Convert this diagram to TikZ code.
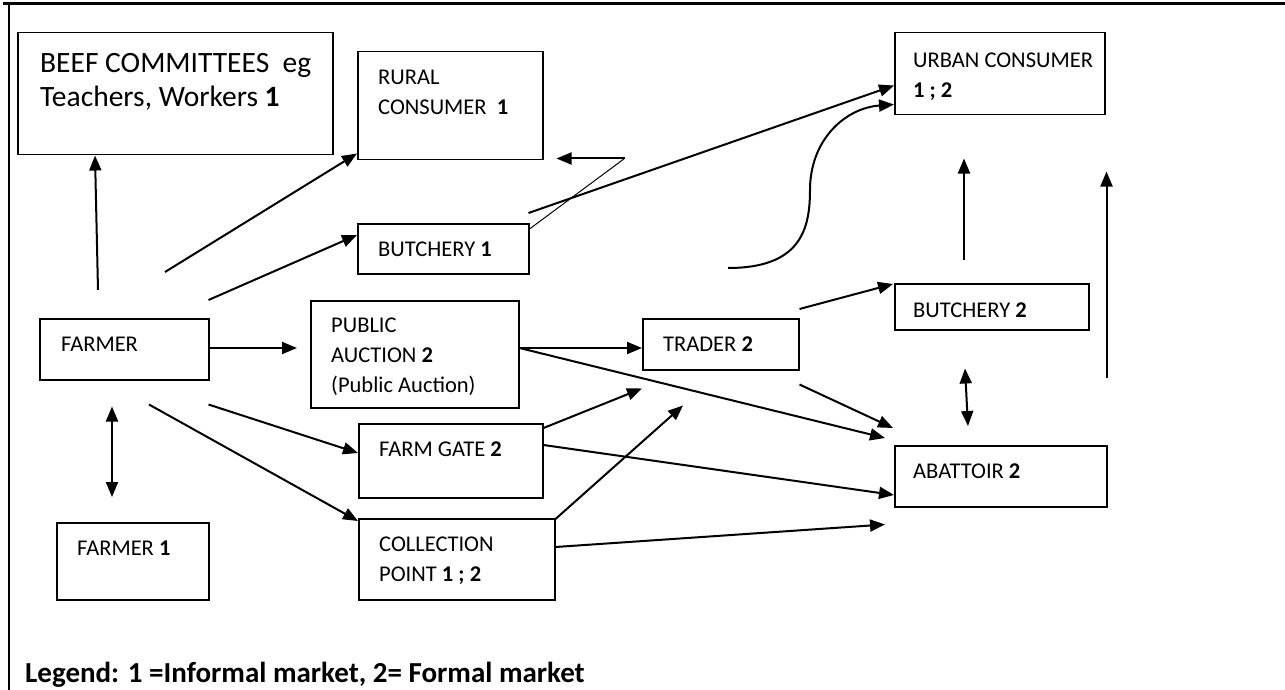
\documentclass[tikz,border=0pt]{standalone}
\usepackage{fontspec}
\setmainfont{Carlito}
\usepackage{tikz}
\usetikzlibrary{arrows.meta}
\usetikzlibrary{positioning}
\tikzset{
  box/.style={draw, line width=1.5pt, anchor=north west, inner sep=0pt},
  boxtext/.style={anchor=north west, inner sep=0pt, align=left, font=\fontsize{22.5}{30}\selectfont},
  flow/.style={->, line width=2pt},
  thinflow/.style={line width=1pt},
}

\begin{document}
\begin{tikzpicture}[x=1pt, y=-1pt, >={Triangle[length=15pt,width=12pt]}]
\useasboundingbox (0,0) rectangle (1285,690);

% Rahmen
\draw[line width=3pt] (3,4) -- (1285,4);
\draw[line width=2pt] (9,4) -- (9,690);

% Kaesten
\node[box, minimum width=315pt, minimum height=122pt] (beef) at (17,32) {};
\node[anchor=north west, inner sep=0pt, align=left, font=\fontsize{29.5}{34}\selectfont] (beef-t)
  at ([shift={(23,21)}]beef.north west) {BEEF COMMITTEES~~eg\\Teachers, Workers \textbf{1}};

\node[box, minimum width=185pt, minimum height=108pt] (rural) at (357,51) {};
\node[boxtext] (rural-t) at ([shift={(21,19)}]rural.north west) {RURAL\\CONSUMER~~\textbf{1}};

\node[box, minimum width=171pt, minimum height=50pt] (butchA) at (357,223) {};
\node[boxtext] (butchA-t) at ([shift={(21,19)}]butchA.north west) {BUTCHERY \textbf{1}};

\node[box, minimum width=210pt, minimum height=82pt] (urban) at (894,32) {};
\node[boxtext] (urban-t) at ([shift={(19,21)}]urban.north west) {URBAN CONSUMER\\\textbf{1 ; 2}};

\node[box, minimum width=194pt, minimum height=46pt] (butchB) at (894,283) {};
\node[boxtext] (butchB-t) at ([shift={(19,20)}]butchB.north west) {BUTCHERY \textbf{2}};

\node[box, minimum width=156pt, minimum height=51pt] (trader) at (642,318) {};
\node[boxtext] (trader-t) at ([shift={(21,19)}]trader.north west) {TRADER \textbf{2}};

\node[box, minimum width=212pt, minimum height=61pt] (abattoir) at (894,445) {};
\node[boxtext] (abattoir-t) at ([shift={(19,19)}]abattoir.north west) {ABATTOIR \textbf{2}};

\node[box, minimum width=169pt, minimum height=61pt] (farmer) at (39,318) {};
\node[boxtext] (farmer-t) at ([shift={(22,19)}]farmer.north west) {FARMER};

\node[box, minimum width=208pt, minimum height=107pt] (auction) at (310,300) {};
\node[boxtext] (auction-t) at ([shift={(21,18)}]auction.north west) {PUBLIC\\AUCTION \textbf{2}\\(Public Auction)};

\node[box, minimum width=184pt, minimum height=74pt] (gate) at (358,423) {};
\node[boxtext] (gate-t) at ([shift={(21,19)}]gate.north west) {FARM GATE \textbf{2}};

\node[box, minimum width=196pt, minimum height=81pt] (collect) at (358,518) {};
\node[boxtext] (collect-t) at ([shift={(21,19)}]collect.north west) {COLLECTION\\POINT \textbf{1 ; 2}};

\node[box, minimum width=152pt, minimum height=77pt] (farmerA) at (56,522) {};
\node[boxtext] (farmerA-t) at ([shift={(21,19)}]farmerA.north west) {FARMER \textbf{1}};

% Legende
\node[anchor=north west, inner sep=0pt, font=\bfseries\fontsize{29}{34}\selectfont] (legend) at (25,662)
  {Legend: 1 =Informal market, 2= Formal market};

% Pfeile vom Farmer
\draw[flow] ([shift={(59,-28)}]farmer.north west) -- ([xshift=78pt]beef.south west);
\draw[flow] ([shift={(126,-46)}]farmer.north west) -- ([shift={(0,-7)}]rural.south west);
\draw[flow] ([shift={(-1,-18)}]farmer.north east) -- ([shift={(0,12)}]butchA.north west);
\draw[flow] ([shift={(0,30)}]farmer.north east) -- ([shift={(-13,48)}]auction.north west);
\draw[flow] ([shift={(-1,24)}]farmer.south east) -- ([shift={(0,30)}]gate.north west);
\draw[flow] ([shift={(110,24)}]farmer.south west) -- ([shift={(0,3)}]collect.north west);
\draw[flow, <->] ([shift={(73,26)}]farmer.south west) -- ([shift={(56,-25)}]farmerA.north west);

% Butchery 1
\coordinate (knick) at ([shift={(81,-2)}]rural.south east);
\draw[thinflow] ([shift={(0,6)}]butchA.north east) -- (knick);
\draw[flow] (knick) -- ([shift={(13,-2)}]rural.south east);
\draw[flow] ([shift={(-1,-10)}]butchA.north east) -- ([shift={(0,-30)}]urban.south west);

% Bogen zum Urban Consumer
\coordinate (bogen) at ([shift={(86,-50)}]trader.north west);
\draw[flow] (bogen) .. controls +(72,0) and (810,230) .. (810,190)
  .. controls (810,140) and (845,108) .. ([shift={(0,-11)}]urban.south west);

% Public Auction
\draw[flow] ([shift={(0,48)}]auction.north east) -- ([shift={(0,30)}]trader.north west);
\draw[flow] ([shift={(0,48)}]auction.north east) -- ([shift={(-9,-7)}]abattoir.north west);

% Trader
\draw[flow] ([shift={(0,14)}]trader.south east) -- ([shift={(-1,-17)}]abattoir.north west);
\draw[flow] ([shift={(0,-9)}]trader.north east) -- ([shift={(-1,1)}]butchB.north west);

% Farm Gate und Collection Point
\draw[flow] ([shift={(0,5)}]gate.north east) -- ([shift={(0,18)}]trader.south west);
\draw[flow] ([shift={(0,22)}]gate.north east) -- ([shift={(0,50)}]abattoir.north west);
\draw[flow] ([shift={(0,1)}]collect.north east) -- ([shift={(41,35)}]trader.south west);
\draw[flow] ([shift={(0,29)}]collect.north east) -- ([shift={(-9,17)}]abattoir.south west);

% Butchery 2 und Abattoir
\draw[flow, <->] ([shift={(71,38)}]butchB.south west) -- ([shift={(74,-19)}]abattoir.north west);
\draw[flow] ([shift={(70,-23)}]butchB.north west) -- ([shift={(70,43)}]urban.south west);
\draw[flow] ([shift={(-1,-67)}]abattoir.north east) -- ([shift={(1,56)}]urban.south east);

\end{tikzpicture}
\end{document}
